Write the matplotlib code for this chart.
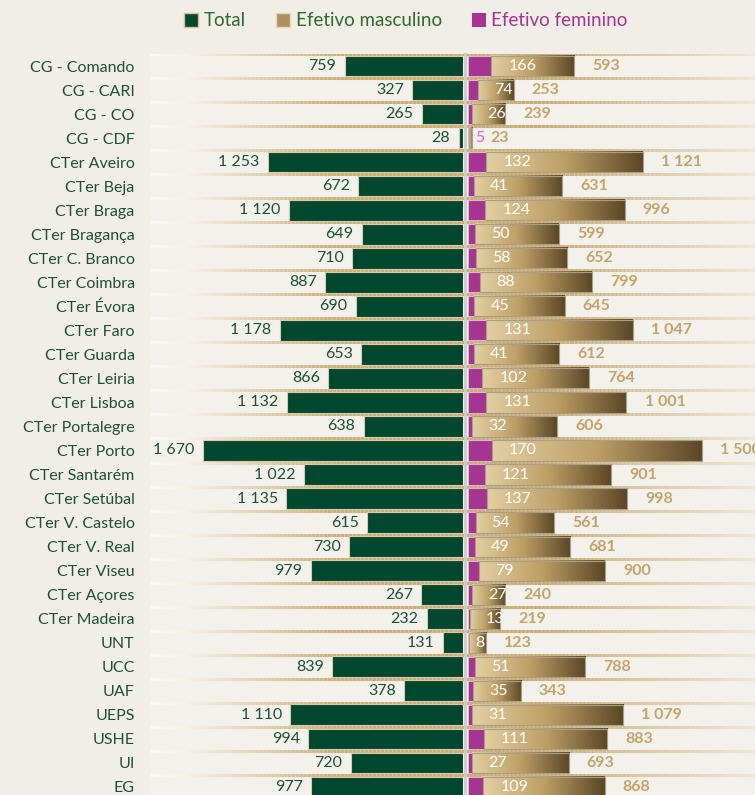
import numpy as np
import matplotlib
matplotlib.use('Agg')
import matplotlib.pyplot as plt
from matplotlib.colors import LinearSegmentedColormap
from matplotlib.patches import Patch
from matplotlib.lines import Line2D
from matplotlib.collections import LineCollection

plt.rcParams['font.family'] = ['Lato', 'DejaVu Sans']

# ---------------- data ----------------
categories = ['CG - Comando', 'CG - CARI', 'CG - CO', 'CG - CDF', 'CTer Aveiro', 'CTer Beja',
              'CTer Braga', 'CTer Bragança', 'CTer C. Branco', 'CTer Coimbra', 'CTer Évora',
              'CTer Faro', 'CTer Guarda', 'CTer Leiria', 'CTer Lisboa', 'CTer Portalegre',
              'CTer Porto', 'CTer Santarém', 'CTer Setúbal', 'CTer V. Castelo', 'CTer V. Real',
              'CTer Viseu', 'CTer Açores', 'CTer Madeira', 'UNT', 'UCC', 'UAF', 'UEPS', 'USHE',
              'UI', 'EG']
total = [759, 327, 265, 28, 1253, 672, 1120, 649, 710, 887, 690, 1178, 653, 866, 1132, 638,
         1670, 1022, 1135, 615, 730, 979, 267, 232, 131, 839, 378, 1110, 994, 720, 977]
female = [166, 74, 26, 5, 132, 41, 124, 50, 58, 88, 45, 131, 41, 102, 131, 32,
          170, 121, 137, 54, 49, 79, 27, 13, 8, 51, 35, 31, 111, 27, 109]
male = [593, 253, 239, 23, 1121, 631, 996, 599, 652, 799, 645, 1047, 612, 764, 1001, 606,
        1500, 901, 998, 561, 681, 900, 240, 219, 123, 788, 343, 1079, 883, 693, 868]
legend_labels = ['Total', 'Efetivo masculino', 'Efetivo feminino']

# ---------------- style ----------------
C_TOTAL = '#00472f'
C_FEM = '#a5358f'
C_LABEL = '#1f4f3c'
C_MALE_TXT = '#c4a468'
C_LEG_GREEN = '#2f6b2f'
male_cmap = LinearSegmentedColormap.from_list('m', ['#e2cfa3', '#bd9f66', '#5b4726'])
sep_cmap = LinearSegmentedColormap.from_list(
    's', [(0.0, '#fbfaf7'), (0.05, '#f7f2e6'), (0.3, '#cdb07a'), (0.65, '#c9ad78'), (1.0, '#efe6d2')])

def fmt(v):
    return f"{v:,}".replace(",", " ")

W, H = 755, 795
fig = plt.figure(figsize=(W / 100, H / 100), dpi=100)
fig.patch.set_facecolor('#f1eee8')

def fx(px):
    return px / W

def fy(py):
    return 1 - py / H

n = len(categories)
y = np.arange(n)
top_px = 54
pitch = 24.03
ybot = -0.5 + (H - top_px) / pitch
ax_h = (H - top_px) / H

# background bands / separators
axBG = fig.add_axes([fx(150), 0, fx(W - 150), ax_h], zorder=0)
axBG.set_xlim(0, 1)
axBG.set_ylim(ybot, -0.5)
axBG.barh(y, 1, height=1.0, left=0, color='#f3f1ec', edgecolor='none')
xs = np.linspace(0, 1, 151)
for b in np.arange(n + 1) - 0.5:
    segs = [[(xs[k], b), (xs[k + 1], b)] for k in range(len(xs) - 1)]
    cols = sep_cmap(xs[:-1])
    axBG.add_collection(LineCollection(segs, colors=cols, linewidths=2.2))
axBG.axis('off')

# left axis: totals
axL = fig.add_axes([fx(150), 0, fx(313), ax_h], zorder=2)
axL.patch.set_alpha(0)
axL.barh(y, total, height=0.86, color=C_TOTAL, edgecolor='#d8cca8', linewidth=0.8)
axL.set_xlim(2010, 0)
axL.set_ylim(ybot, -0.5)
axL.set_yticks(y)
axL.set_yticklabels(categories, fontsize=11.5, color=C_LABEL)
axL.tick_params(axis='y', length=0, pad=11)
axL.set_xticks([])
for s in axL.spines.values():
    s.set_visible(False)
for i, v in enumerate(total):
    axL.annotate(fmt(v), xy=(v, i), xytext=(-6, 0), textcoords='offset points',
                 ha='right', va='center', fontsize=11.5, color=C_LABEL)

# right axis: female + male
axR = fig.add_axes([fx(468), 0, fx(W - 468), ax_h], zorder=2)
axR.patch.set_alpha(0)
bh = 0.84
axR.barh(y, female, height=bh, color=C_FEM, edgecolor='#e2bcd9', linewidth=0.6)
grad = np.linspace(0, 1, 256).reshape(1, -1)
for i, (f, m) in enumerate(zip(female, male)):
    axR.imshow(grad, cmap=male_cmap, extent=(f, f + m, i + bh / 2, i - bh / 2),
               aspect='auto', interpolation='bilinear', zorder=2)
axR.barh(y, male, left=female, height=bh, facecolor='none', edgecolor='#a89f8a',
         linewidth=0.8, zorder=3)
axR.set_xlim(0, 2050)
axR.set_ylim(ybot, -0.5)
axR.set_xticks([])
axR.set_yticks([])
for s in axR.spines.values():
    s.set_visible(False)
for i, (f, m) in enumerate(zip(female, male)):
    col = 'white' if m >= 50 else '#e85fd0'
    off_px = 6 if f < 10 else (16 if f < 100 else 17)
    axR.annotate(fmt(f), xy=(f, i), xytext=(off_px * 0.72, 0), textcoords='offset points',
                 ha='left', va='center', fontsize=11.5, color=col, zorder=5)
    axR.annotate(fmt(m), xy=(f + m, i), xytext=(13, 0), textcoords='offset points',
                 ha='left', va='center', fontsize=11.5, color=C_MALE_TXT,
                 fontweight='bold', zorder=5, annotation_clip=False)

# centre line
fig.add_artist(Line2D([fx(465), fx(465)], [fy(54), 0], color='#cccccc', lw=2,
                      transform=fig.transFigure, zorder=10))

# legend
handles = [Patch(facecolor=C_TOTAL, edgecolor='#d5c18e'),
           Patch(facecolor='#b09060', edgecolor='#e6d8b4'),
           Patch(facecolor=C_FEM, edgecolor='none')]
leg = fig.legend(handles, legend_labels, loc='center', bbox_to_anchor=(fx(406), fy(21)),
                 ncol=3, frameon=False, fontsize=13.5, handlelength=0.75, handleheight=0.75,
                 handletextpad=0.3, columnspacing=1.6)
for t, c in zip(leg.get_texts(), [C_LEG_GREEN, C_LEG_GREEN, C_FEM]):
    t.set_color(c)

fig.savefig('out.png', dpi=100, facecolor=fig.get_facecolor())
